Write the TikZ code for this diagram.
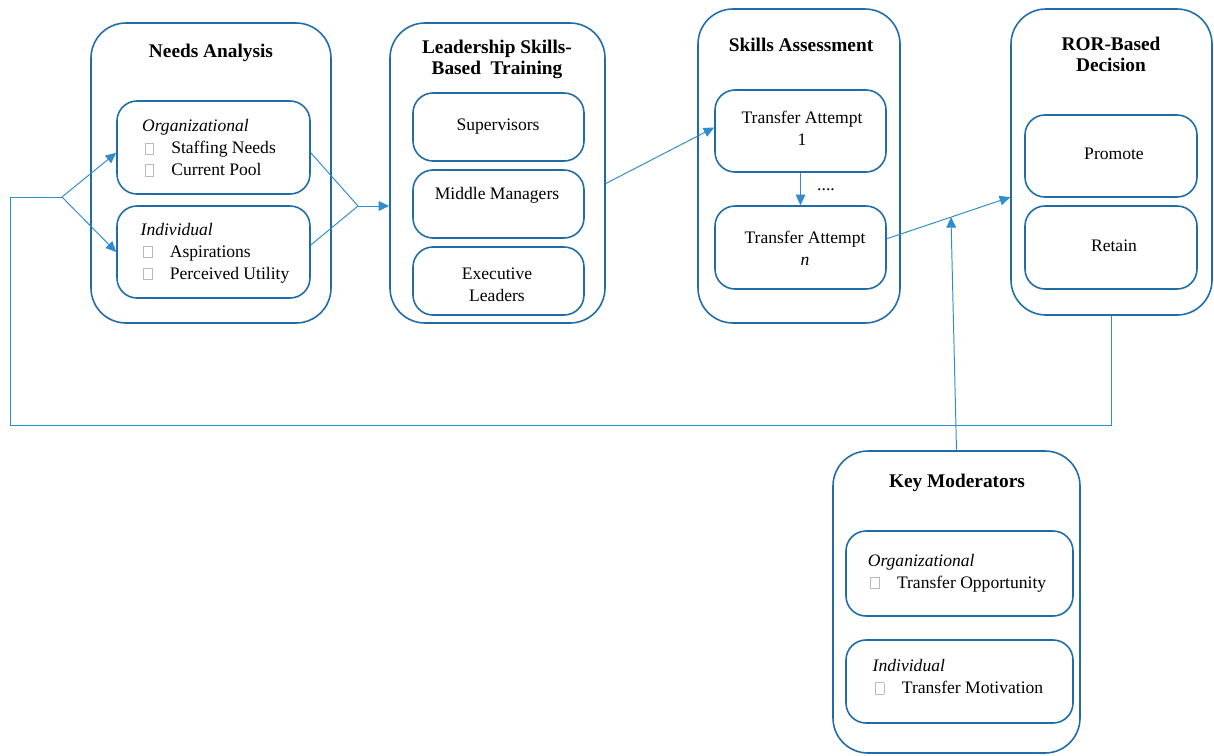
\documentclass[tikz,border=0pt]{standalone}
\usepackage{fontspec}
\setmainfont{Liberation Serif}
\usetikzlibrary{positioning,fit,arrows.meta}
\definecolor{boxblue}{RGB}{32,108,168}
\definecolor{linkblue}{RGB}{48,140,205}
% the empty glyph box printed in front of each list item
\newcommand{\nob}{\textcolor{gray!55}{\setlength{\fboxrule}{0.4pt}\setlength{\fboxsep}{0pt}\fbox{\rule{0pt}{6pt}\rule{4.3pt}{0pt}}}}
\newcommand{\nobitem}[1]{\hspace{1.5pt}\nob\hspace{10pt}#1}

\begin{document}
\begin{tikzpicture}[x=0.02cm,y=-0.02cm,
	outer/.style={draw=boxblue,line width=0.9pt,rounded corners=0.7cm,inner sep=0pt},
	inner/.style={draw=boxblue,line width=0.9pt,rounded corners=0.4cm,inner sep=0pt},
	txt/.style={font=\fontsize{10}{12.5}\selectfont,inner sep=0pt},
	title/.style={font=\fontsize{11}{12}\selectfont\bfseries,align=center},
	link/.style={draw=linkblue,line width=0.55pt},
	arr/.style={link,-{Triangle[length=6pt,width=5.5pt]}}]
	\useasboundingbox (0,0) rectangle (1214,755);
	
	% stages
	\node[outer, fit={(91,23) (331,323)}] (needs) {};
	\node[outer, fit={(390,23) (605,323)}] (lead) {};
	\node[outer, fit={(698,9) (900,323)}] (assess) {};
	\node[outer, fit={(1011,9) (1212,315)}] (ror) {};
	\node[outer, fit={(833,451) (1080,753)}] (keymod) {};
	
	\node[title] at (211,53) (needsT) {Needs Analysis};
	\node[title] at (497,59) (leadT) {Leadership Skills-\\Based\ \ Training};
	\node[title] at (801,45) (assessT) {Skills Assessment};
	\node[title] at (1111,54) (rorT) {ROR-Based\\Decision};
	\node[title] at (957,483) (keymodT) {Key Moderators};
	
	% needs analysis
	\node[inner, fit={(117,101) (310,194)}] (orgneeds) {};
	\node[txt, align=left] at (209,148) (orgneedsT) {\textit{Organizational}\\\nobitem{Staffing Needs}\\\nobitem{Current Pool}};
	\node[inner, fit={(117,206) (310,298)}] (indneeds) {};
	\node[txt, align=left] at (215,253) (indneedsT) {\textit{Individual}\\\nobitem{Aspirations}\\\nobitem{Perceived Utility}};
	
	% training levels
	\node[inner, fit={(413,93) (584,161)}] (sup) {};
	\node[txt] at (498,127) (supT) {Supervisors};
	\node[inner, fit={(413,170) (584,238)}] (mid) {};
	\node[txt] at (497,195) (midT) {Middle Managers};
	\node[inner, fit={(413,247) (584,315)}] (exec) {};
	\node[txt, align=center] at (497,285) (execT) {Executive\\Leaders};
	
	% assessment
	\node[inner, fit={(715,90) (886,172)}] (ta1) {};
	\node[txt, align=center] at (802,128) (ta1T) {Transfer Attempt\\1};
	\node[inner, fit={(715,206) (886,289)}] (tan) {};
	\node[txt, align=center] at (805,248) (tanT) {Transfer Attempt\\\textit{n}};
	\node[txt] at (826,190) (dots) {....};
	
	% decision
	\node[inner, fit={(1025,115) (1197,197)}] (promote) {};
	\node[txt] at (1114,154) (promoteT) {Promote};
	\node[inner, fit={(1025,206) (1197,289)}] (retain) {};
	\node[txt] at (1114,246) (retainT) {Retain};
	
	% moderators
	\node[inner, fit={(846,531) (1073,616)}] (orgmod) {};
	\node[txt, align=left] at (957,573) (orgmodT) {\textit{Organizational}\\\nobitem{Transfer Opportunity}};
	\node[inner, fit={(846,640) (1073,723)}] (indmod) {};
	\node[txt, align=left] at (958,677) (indmodT) {\textit{Individual}\\\nobitem{Transfer Motivation}};
	
	% connectors
	\coordinate (fb) at (10,425);
	\coordinate (split) at (62,197);
	\coordinate (merge) at (358,206);
	\draw[link] (ror.south) |- (fb) |- (split);
	\draw[arr] (split) -- ([yshift=-3pt]orgneeds.west);
	\draw[arr] (split) -- (indneeds.west);
	\draw[link] ([yshift=-3pt]orgneeds.east) -- (merge);
	\draw[link] ([yshift=4pt]indneeds.east) -- (merge);
	\draw[arr] (merge) -- (lead.west |- merge);
	\draw[arr] ([yshift=-6pt]lead.east) -- ([yshift=2pt]ta1.west);
	\draw[arr] (ta1.south) -- (tan.north);
	\draw[arr] ([yshift=5pt]tan.east) -- ([yshift=-20pt]ror.west) coordinate[pos=0.52] (hit);
	\draw[arr] (keymod.north) -- (hit);
\end{tikzpicture}
\end{document}
